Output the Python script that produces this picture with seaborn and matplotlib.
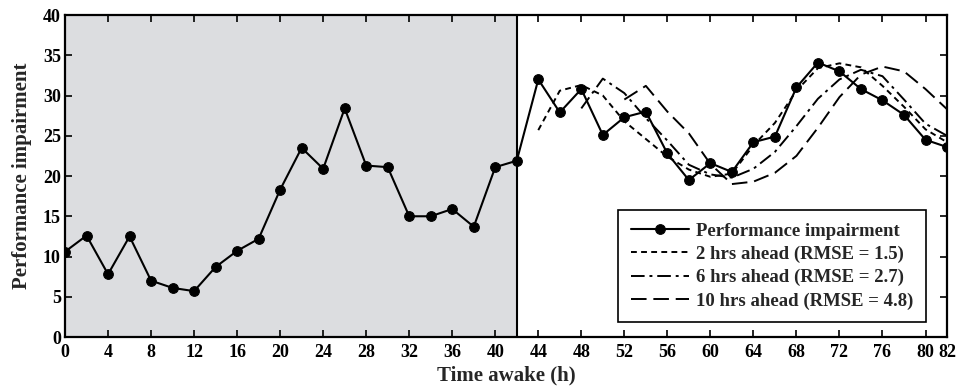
import matplotlib
matplotlib.use("Agg")
import matplotlib.pyplot as plt
import seaborn as sns

# observed performance impairment, every 2 h
hours = list(range(0, 84, 2))
impairment = [10.6, 12.6, 7.8, 12.5, 7.0, 6.1, 5.7, 8.7, 10.7, 12.2,
              18.3, 23.5, 20.9, 28.4, 21.3, 21.1, 15.0, 15.0, 15.9, 13.7,
              21.1, 21.9, 32.0, 27.9, 30.8, 25.1, 27.3, 28.0, 22.8, 19.5,
              21.6, 20.5, 24.2, 24.9, 31.0, 34.1, 33.0, 30.8, 29.4, 27.6,
              24.5, 23.6]

# forecasts
hours_2h = list(range(44, 84, 2))
ahead_2h = [25.7, 30.6, 31.3, 30.0, 26.8, 24.6, 22.4, 20.8, 19.9, 20.3,
            23.8, 26.6, 30.6, 33.4, 34.0, 33.5, 31.2, 28.6, 25.8, 24.2]

hours_6h = list(range(48, 84, 2))
ahead_6h = [28.4, 32.1, 30.3, 27.2, 24.4, 21.4, 20.2, 19.8, 20.9, 23.0,
            26.2, 29.6, 32.0, 33.2, 32.4, 29.5, 26.5, 25.0]

hours_10h = list(range(52, 84, 2))
ahead_10h = [29.5, 31.2, 28.0, 25.3, 21.5, 19.0, 19.3, 20.4, 22.5, 26.0,
             29.8, 32.6, 33.6, 33.0, 30.8, 28.3]

xtick_vals = list(range(0, 84, 4)) + [82]
ytick_vals = list(range(0, 45, 5))

sns.set_style("ticks")
plt.rcParams["font.family"] = ["Liberation Serif", "DejaVu Serif"]
plt.rcParams["font.weight"] = "bold"
plt.rcParams["axes.labelweight"] = "bold"

fig = plt.figure(figsize=(9.59, 3.88), dpi=100)
ax = fig.add_axes([0.0678, 0.1314, 0.9197, 0.8299])

ax.axvspan(0, 42, color="#dcdde0", lw=0, zorder=0)
ax.axvline(42, color="black", lw=1.5, zorder=1)

sns.lineplot(x=hours, y=impairment, ax=ax, color="black", lw=1.5,
             marker="o", markersize=7, markeredgecolor="black",
             label="Performance impairment", zorder=5)
sns.lineplot(x=hours_2h, y=ahead_2h, ax=ax, color="black", lw=1.4,
             linestyle=(0, (3, 2.2)), label="2 hrs ahead (RMSE = 1.5)")
sns.lineplot(x=hours_6h, y=ahead_6h, ax=ax, color="black", lw=1.4,
             linestyle=(0, (7, 2.5, 1.5, 2.5)), label="6 hrs ahead (RMSE = 2.7)")
sns.lineplot(x=hours_10h, y=ahead_10h, ax=ax, color="black", lw=1.4,
             linestyle=(0, (8, 3.5)), label="10 hrs ahead (RMSE = 4.8)")

ax.set_xlim(0, 82)
ax.set_ylim(0, 40)
ax.set_xticks(xtick_vals)
ax.set_xticklabels([str(v) for v in xtick_vals])
ax.set_yticks(ytick_vals)
ax.tick_params(direction="in", length=5, width=1.2, labelsize=13,
               top=True, right=True, colors="black")
ax.tick_params(axis="x", pad=5)
ax.tick_params(axis="y", pad=3)
for lbl in ax.get_xticklabels() + ax.get_yticklabels():
    lbl.set_fontweight("bold")
for s in ax.spines.values():
    s.set_linewidth(1.6)
    s.set_color("black")

ax.set_xlabel("Time awake (h)", fontsize=15, labelpad=3)
ax.set_ylabel("Performance impairment", fontsize=15, labelpad=8)

leg = ax.legend(loc="lower right", bbox_to_anchor=(0.976, 0.047),
                borderaxespad=0, frameon=True, fancybox=False,
                edgecolor="black", framealpha=1, handlelength=3.1,
                handletextpad=0.4, prop={"size": 13.5, "weight": "bold"},
                labelspacing=0.32, borderpad=0.65)
leg.get_frame().set_linewidth(1.2)

fig.savefig("out.png", dpi=100)
